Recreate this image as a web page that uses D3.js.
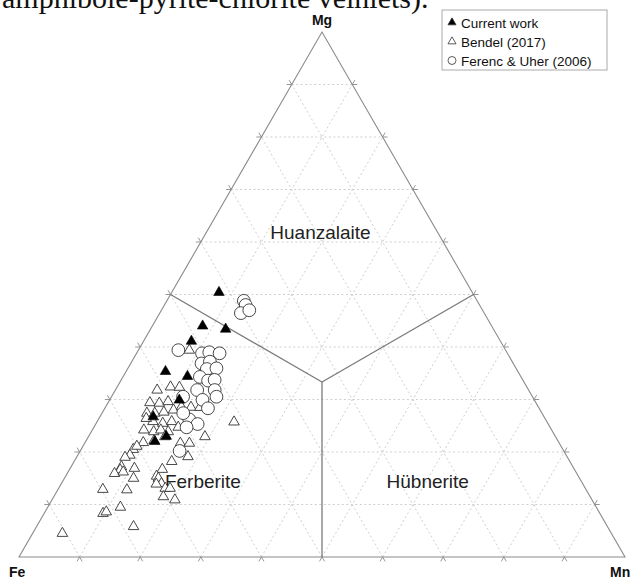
<!DOCTYPE html>
<html>
<head>
<meta charset="utf-8">
<script src="https://cdn.jsdelivr.net/npm/d3@7"></script>
<style>
  body { margin: 0; background: #fff; }
  svg { display: block; }
</style>
</head>
<body>
<svg id="chart" width="637" height="581"></svg>
<script>
// Wolframite compositions, each point as [Fe, Mn, Mg] in percent
const currentWork = [
  [41.8, 7.8, 50.4], [47.7, 8.3, 44.0], [44.2, 12.4, 43.4], [51.0, 7.9, 41.1],
  [58.1, 6.5, 35.3], [55.0, 10.6, 34.4], [58.6, 11.5, 29.9], [64.5, 8.8, 26.7],
  [66.6, 11.4, 22.0], [64.2, 12.8, 23.0]
];
const bendel2017 = [
  [52.2, 8.4, 39.4], [61.3, 6.9, 31.8], [58.8, 8.8, 32.4], [57.3, 10.3, 32.3],
  [63.7, 6.9, 29.4], [62.2, 8.5, 29.3], [60.6, 9.8, 29.6], [65.2, 7.4, 27.4],
  [63.9, 8.7, 27.4], [62.3, 10.1, 27.6], [60.5, 11.5, 28.0], [58.9, 12.5, 28.6],
  [57.3, 14.1, 28.5], [55.9, 15.6, 28.5], [65.0, 9.2, 25.8], [63.6, 11.0, 25.5],
  [61.9, 12.3, 25.8], [67.3, 8.5, 24.2], [65.9, 10.3, 23.9], [64.5, 11.3, 24.2],
  [63.5, 12.7, 23.9], [61.3, 13.9, 24.7], [66.6, 11.2, 22.2], [68.6, 9.6, 21.8],
  [64.4, 12.6, 22.9], [57.8, 19.2, 22.9], [70.9, 8.6, 20.5], [70.0, 8.9, 21.1],
  [72.0, 8.6, 19.4], [73.0, 8.0, 19.0], [74.5, 8.3, 17.2], [75.0, 8.4, 16.6],
  [76.2, 7.8, 15.9], [74.7, 9.1, 16.2], [72.5, 10.6, 16.9], [73.6, 11.4, 15.0],
  [65.7, 16.1, 18.2], [68.0, 15.3, 16.7], [69.6, 15.0, 15.4], [69.5, 15.5, 15.0],
  [69.5, 16.5, 14.0], [70.4, 15.7, 13.9], [69.4, 17.6, 13.1], [68.6, 18.4, 13.1],
  [70.5, 18.1, 11.5], [68.9, 20.3, 10.9], [79.8, 7.4, 12.9], [75.8, 11.4, 12.8],
  [78.6, 12.0, 9.5], [81.9, 9.7, 8.3], [81.3, 10.1, 8.6], [78.2, 16.0, 5.8],
  [90.5, 4.9, 4.5], [62.6, 15.8, 21.7], [61.1, 17.3, 21.7], [62.5, 18.3, 19.1],
  [51.6, 22.6, 25.7], [65.8, 7.8, 26.4]
];
const ferencUher2006 = [
  [38.5, 12.7, 48.8], [38.6, 13.4, 48.0], [40.2, 13.4, 46.5], [38.5, 14.5, 47.0],
  [54.0, 6.6, 39.4], [50.4, 10.8, 38.8], [49.1, 11.9, 39.0], [47.5, 13.7, 38.8],
  [51.5, 11.7, 36.9], [49.9, 12.9, 37.2], [51.1, 13.1, 35.8], [49.4, 14.6, 35.9],
  [53.0, 12.7, 34.3], [52.0, 14.4, 33.6], [50.8, 15.4, 33.7], [54.7, 13.5, 31.8],
  [51.8, 16.4, 31.8], [57.6, 11.8, 30.5], [54.7, 15.3, 29.9], [52.1, 17.3, 30.5],
  [54.6, 17.0, 28.3], [58.8, 15.0, 26.2], [57.8, 16.8, 25.3], [60.0, 15.3, 24.7],
  [59.2, 13.4, 27.4], [63.4, 16.4, 20.2]
];

const cornerLabels = ["Fe", "Mn", "Mg"];
const fieldLabels = [
  { name: "Huanzalaite", at: [19.3, 18.8, 61.9] },
  { name: "Ferberite", at: [62.4, 23.1, 14.5] },
  { name: "Hübnerite", at: [25.3, 60.2, 14.5] }
];
const legendLabels = ["Current work", "Bendel (2017)", "Ferenc & Uher (2006)"];
const gridSteps = d3.range(10, 100, 10);

const svg = d3.select("#chart");
const font = "'Liberation Sans', Arial, sans-serif";

// Ternary projection: horizontal position from Mn + Mg/2, vertical from Mg
const xs = d3.scaleLinear().domain([0, 100]).range([19, 625]);
const ys = d3.scaleLinear().domain([0, 100]).range([557, 32]);
function proj(d) {
  const s = d[0] + d[1] + d[2];
  const mn = d[1] / s * 100, mg = d[2] / s * 100;
  return [xs(mn + mg / 2), ys(mg)];
}
const line = d3.line();

// Heading text above the diagram, cut by the top edge
svg.append("text")
  .attr("x", 2).attr("y", 8)
  .attr("font-family", "'Liberation Serif', 'Times New Roman', serif")
  .attr("font-size", 30)
  .attr("fill", "#111")
  .text("amphibole-pyrite-chlorite veinlets).");

// Dotted grid at 10 % steps for the three components
const gridLines = [];
gridSteps.forEach(v => {
  gridLines.push([[100 - v, 0, v], [0, 100 - v, v]]);   // constant Mg
  gridLines.push([[100 - v, v, 0], [0, v, 100 - v]]);   // constant Mn
  gridLines.push([[v, 100 - v, 0], [v, 0, 100 - v]]);   // constant Fe
});
svg.append("g")
  .selectAll("path")
  .data(gridLines)
  .join("path")
  .attr("d", seg => line(seg.map(proj)))
  .attr("fill", "none")
  .attr("stroke", "#cfcfcf")
  .attr("stroke-width", 1)
  .attr("stroke-dasharray", "2,2.5");

// Small ticks: the grid lines carried a few pixels past each edge
const tickLen = 5;
const ticks = [];
gridLines.forEach(seg => {
  const a = proj(seg[0]), b = proj(seg[1]);
  const dx = b[0] - a[0], dy = b[1] - a[1], L = Math.hypot(dx, dy);
  ticks.push([a, [a[0] - dx / L * tickLen, a[1] - dy / L * tickLen]]);
  ticks.push([b, [b[0] + dx / L * tickLen, b[1] + dy / L * tickLen]]);
});
svg.append("g")
  .selectAll("path")
  .data(ticks)
  .join("path")
  .attr("d", t => line(t))
  .attr("stroke", "#8a8a8a")
  .attr("stroke-width", 0.9);

// Outer triangle
svg.append("path")
  .attr("d", line([[100, 0, 0], [0, 100, 0], [0, 0, 100]].map(proj)) + "Z")
  .attr("fill", "none")
  .attr("stroke", "#8a8a8a")
  .attr("stroke-width", 1.1);

// Field boundaries from the centroid to the edge midpoints
const centre = [100 / 3, 100 / 3, 100 / 3];
const boundaryEnds = [[50, 0, 50], [0, 50, 50], [50, 50, 0]];
svg.append("g")
  .selectAll("path")
  .data(boundaryEnds)
  .join("path")
  .attr("d", e => line([centre, e].map(proj)))
  .attr("stroke", "#7a7a7a")
  .attr("stroke-width", 1.3);

// Field names
svg.append("g")
  .selectAll("text")
  .data(fieldLabels)
  .join("text")
  .attr("x", d => proj(d.at)[0])
  .attr("y", d => proj(d.at)[1] + 7)
  .attr("text-anchor", "middle")
  .attr("font-family", font)
  .attr("font-size", 19)
  .attr("fill", "#222")
  .text(d => d.name);

// Corner labels
const cornerPos = [
  { t: cornerLabels[0], x: 9, y: 577, a: "start" },
  { t: cornerLabels[1], x: 610, y: 577, a: "start" },
  { t: cornerLabels[2], x: proj([0, 0, 100])[0], y: 25, a: "middle" }
];
svg.append("g")
  .selectAll("text")
  .data(cornerPos)
  .join("text")
  .attr("x", d => d.x).attr("y", d => d.y)
  .attr("text-anchor", d => d.a)
  .attr("font-family", font)
  .attr("font-weight", "bold")
  .attr("font-size", 14)
  .attr("fill", "#111")
  .text(d => d.t);

// Data points
const triSym = d3.symbol().type(d3.symbolTriangle).size(48);
const cirSym = d3.symbol().type(d3.symbolCircle).size(128);

svg.append("g")
  .selectAll("path")
  .data(bendel2017)
  .join("path")
  .attr("transform", d => `translate(${proj(d)})`)
  .attr("d", triSym)
  .attr("fill", "#fff")
  .attr("stroke", "#333")
  .attr("stroke-width", 0.9);

svg.append("g")
  .selectAll("path")
  .data(ferencUher2006)
  .join("path")
  .attr("transform", d => `translate(${proj(d)})`)
  .attr("d", cirSym)
  .attr("fill", "#fff")
  .attr("stroke", "#333")
  .attr("stroke-width", 0.9);

svg.append("g")
  .selectAll("path")
  .data(currentWork)
  .join("path")
  .attr("transform", d => `translate(${proj(d)})`)
  .attr("d", triSym)
  .attr("fill", "#000")
  .attr("stroke", "#000")
  .attr("stroke-width", 0.6);

// Legend
const lg = svg.append("g").attr("transform", "translate(442,10)");
lg.append("rect")
  .attr("width", 165).attr("height", 60)
  .attr("fill", "#fff")
  .attr("stroke", "#aaa")
  .attr("stroke-width", 1);
const legendSyms = [
  { sym: d3.symbol().type(d3.symbolTriangle).size(28), fill: "#000" },
  { sym: d3.symbol().type(d3.symbolTriangle).size(28), fill: "#fff" },
  { sym: d3.symbol().type(d3.symbolCircle).size(50), fill: "#fff" }
];
const rows = lg.selectAll("g.row")
  .data(legendLabels)
  .join("g")
  .attr("class", "row")
  .attr("transform", (d, i) => `translate(0,${13 + i * 19})`);
rows.append("path")
  .attr("transform", "translate(10,-0.5)")
  .attr("d", (d, i) => legendSyms[i].sym())
  .attr("fill", (d, i) => legendSyms[i].fill)
  .attr("stroke", "#333")
  .attr("stroke-width", 0.8);
rows.append("text")
  .attr("x", 19).attr("y", 5)
  .attr("font-family", font)
  .attr("font-size", 13.5)
  .attr("fill", "#111")
  .text(d => d);
</script>
</body>
</html>
